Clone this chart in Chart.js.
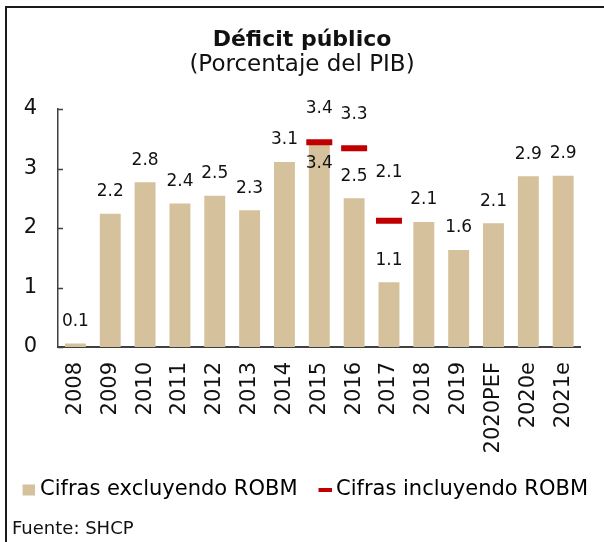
<!DOCTYPE html>
<html>
<head>
<meta charset="utf-8">
<script src="https://cdn.jsdelivr.net/npm/chart.js@4/dist/chart.umd.min.js"></script>
<style>
  html, body { margin: 0; padding: 0; background: #fff; }
  #wrap { position: relative; width: 604px; height: 542px; overflow: hidden; }
  #c { position: absolute; left: 0; top: 0; }
  .bt { position: absolute; left: 5px; top: 6px; width: 599px; height: 2px; background: #1a1a1a; }
  .bl { position: absolute; left: 5px; top: 6px; width: 2px; height: 536px; background: #1a1a1a; }
  #src { position: absolute; left: 12px; top: 516px; font: 18px "DejaVu Sans"; color: #111; line-height: 24px; }
</style>
</head>
<body>
<div id="wrap">
  <canvas id="c" width="604" height="542"></canvas>
  <div class="bt"></div><div class="bl"></div>
  <div id="src">Fuente: SHCP</div>
</div>
<script>
// ---- Data ----
const categories = ['2008','2009','2010','2011','2012','2013','2014','2015','2016','2017','2018','2019','2020PEF','2020e','2021e'];
const excluyendoROBM = [0.06, 2.24, 2.77, 2.41, 2.54, 2.30, 3.11, 3.42, 2.50, 1.09, 2.10, 1.63, 2.08, 2.87, 2.88];
const incluyendoROBM = [null, null, null, null, null, null, null, 3.44, 3.34, 2.12, null, null, null, null, null];
const yTickValues = [0, 1, 2, 3, 4];
const seriesNames = ['Cifras excluyendo ROBM', 'Cifras incluyendo ROBM'];

const BEIGE = '#D5C19B';
const RED = '#C00000';
Chart.defaults.font.family = '"DejaVu Sans"';
Chart.defaults.color = '#111';

function makeSwatch(w, h, x0, sw, sh, color) {
  const cv = document.createElement('canvas');
  cv.width = w; cv.height = h;
  const g = cv.getContext('2d');
  g.fillStyle = color;
  g.fillRect(x0, (h - sh) / 2, sw, sh);
  return cv;
}
const swatchBar = makeSwatch(22, 12, 10, 12, 11, BEIGE);
const swatchRed = makeSwatch(24, 4, 11, 13, 4, RED);

// label offsets (px) relative to the mark's top, per category
const labelShift = { bar: { '2015': 20 }, line: { '2017': -48 } };

const dataLabels = {
  id: 'dataLabels',
  afterDatasetsDraw(chart) {
    const ctx = chart.ctx;
    ctx.save();
    ctx.font = '17px "DejaVu Sans"';
    ctx.fillStyle = '#111';
    ctx.textAlign = 'center';
    ctx.textBaseline = 'middle';
    chart.data.datasets.forEach((ds, i) => {
      const meta = chart.getDatasetMeta(i);
      const kind = ds.type === 'line' ? 'line' : 'bar';
      meta.data.forEach((el, j) => {
        const v = ds.data[j];
        if (v == null) return;
        const cat = categories[j];
        let off = kind === 'line' ? -34 : -22;
        if (labelShift[kind][cat] !== undefined) off = labelShift[kind][cat];
        ctx.fillText(v.toFixed(1), el.x, el.y + off);
      });
    });
    ctx.restore();
  }
};

const innerTicks = {
  id: 'innerTicks',
  afterDraw(chart) {
    const s = chart.scales.y;
    const ctx = chart.ctx;
    ctx.save();
    ctx.strokeStyle = '#404040';
    ctx.lineWidth = 1.5;
    yTickValues.forEach(v => {
      const y = Math.round(s.getPixelForValue(v)) + 0.5;
      ctx.beginPath();
      ctx.moveTo(s.right, y);
      ctx.lineTo(s.right + 5, y);
      ctx.stroke();
    });
    ctx.restore();
  }
};

new Chart(document.getElementById('c'), {
  data: {
    labels: categories,
    datasets: [
      {
        type: 'bar',
        label: seriesNames[0],
        data: excluyendoROBM,
        backgroundColor: BEIGE,
        barPercentage: 0.6,
        categoryPercentage: 1.0,
        yAxisID: 'y',
        order: 2
      },
      {
        type: 'line',
        label: seriesNames[1],
        data: incluyendoROBM,
        showLine: false,
        pointStyle: 'line',
        pointRadius: 13,
        pointHoverRadius: 13,
        pointBorderWidth: 6,
        pointHoverBorderWidth: 6,
        borderColor: RED,
        backgroundColor: RED,
        yAxisID: 'y',
        order: 1
      }
    ]
  },
  options: {
    responsive: false,
    animation: false,
    devicePixelRatio: 1,
    layout: { padding: { left: 0, right: 0, top: 0, bottom: 31.5 } },
    plugins: {
      tooltip: { enabled: false },
      title: {
        display: true,
        text: 'Déficit público',
        color: '#111',
        font: { size: 22, weight: 'bold', lineHeight: 1 },
        padding: { top: 29, bottom: 0 }
      },
      subtitle: {
        display: true,
        text: '(Porcentaje del PIB)',
        color: '#111',
        font: { size: 23, weight: 'normal', lineHeight: 1 },
        padding: { top: 2.5, bottom: 32.5 }
      },
      legend: {
        display: true,
        position: 'bottom',
        align: 'end',
        labels: {
          usePointStyle: true,
          boxWidth: 12,
          boxHeight: 12,
          padding: 16,
          color: '#111',
          font: { size: 21 },
          generateLabels() {
            return [
              { text: seriesNames[0], fillStyle: BEIGE, strokeStyle: BEIGE, lineWidth: 0, pointStyle: swatchBar, hidden: false, datasetIndex: 0 },
              { text: seriesNames[1], fillStyle: RED, strokeStyle: RED, lineWidth: 0, pointStyle: swatchRed, hidden: false, datasetIndex: 1 }
            ];
          }
        }
      }
    },
    scales: {
      x: {
        type: 'category',
        offset: true,
        grid: { display: false, drawTicks: false },
        border: { display: true, color: '#404040', width: 2 },
        ticks: { minRotation: 90, maxRotation: 90, padding: 15, color: '#111', font: { size: 21 }, autoSkip: false },
        afterFit(s) { s.height = 116.5; }
      },
      y: {
        position: 'left',
        min: 0,
        max: 4,
        grid: { display: false, drawTicks: false },
        border: { display: true, color: '#404040', width: 1.5 },
        ticks: { stepSize: 1, padding: 21, color: '#111', font: { size: 21 } },
        afterFit(s) { s.width = 58; }
      },
      yR: {
        position: 'right',
        display: true,
        grid: { display: false, drawTicks: false },
        border: { display: false },
        ticks: { display: false },
        afterFit(s) { s.width = 18; }
      }
    }
  },
  plugins: [dataLabels, innerTicks]
});
</script>
</body>
</html>
